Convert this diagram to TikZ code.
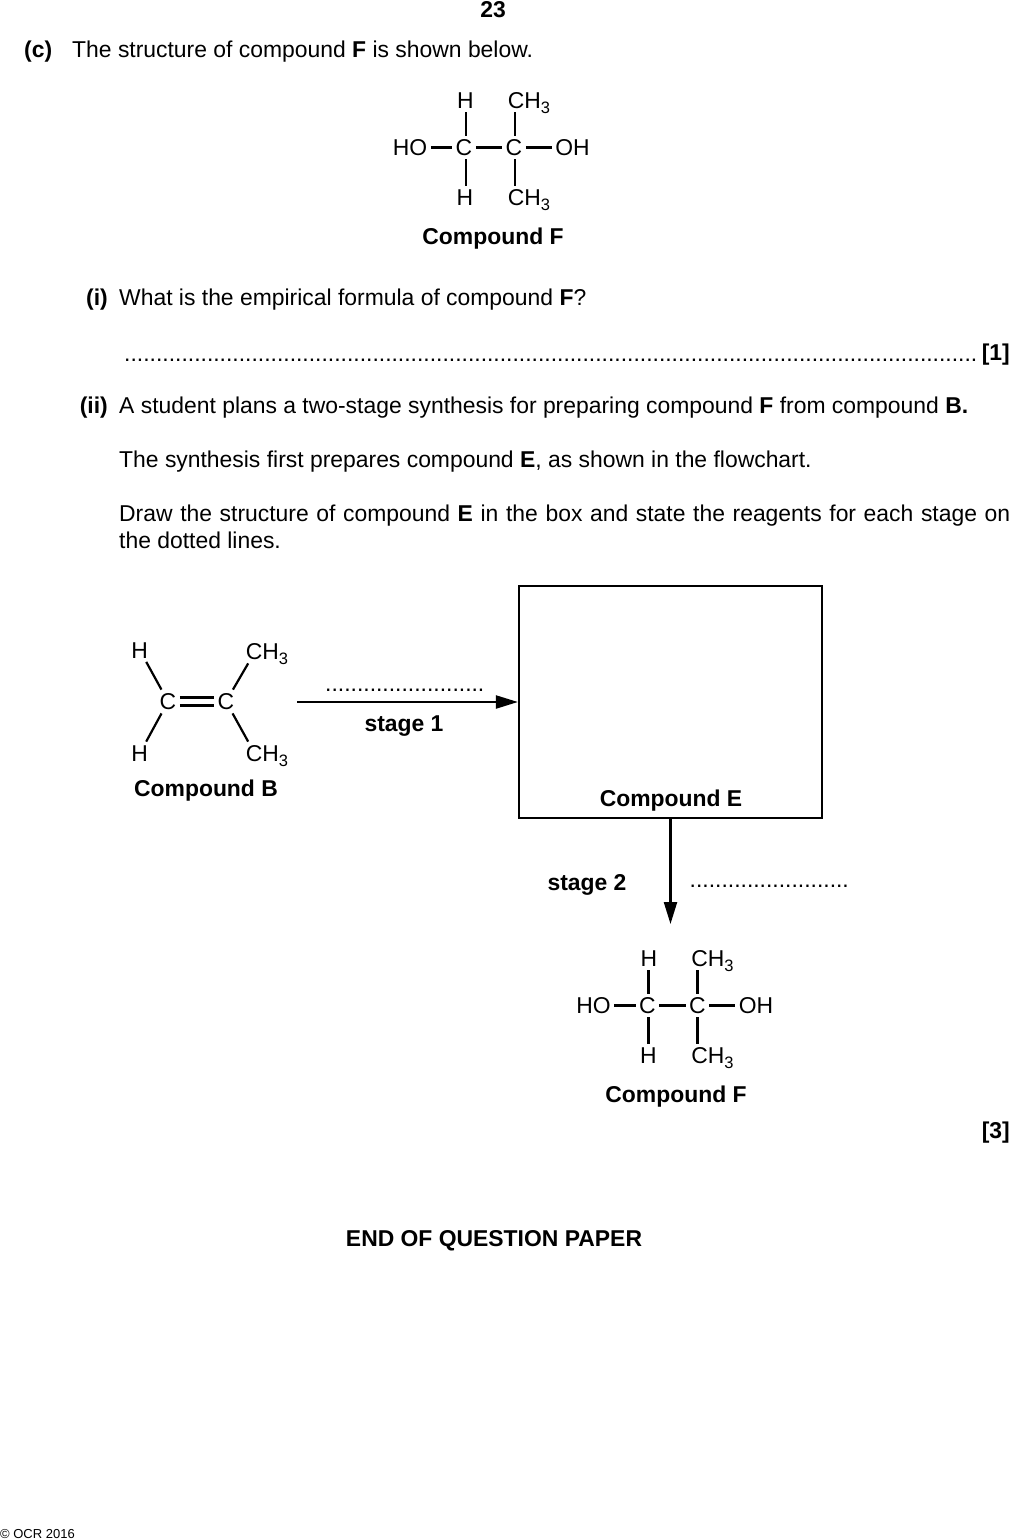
\documentclass[tikz,border=0pt]{standalone}
\usepackage{fontspec}
\setmainfont{Liberation Sans}
\usetikzlibrary{arrows.meta}
\newcommand{\methyl}{CH\raisebox{-5pt}{\fontsize{16.5}{18}\selectfont 3}}
\begin{document}
\begin{tikzpicture}[x=1pt,y=-1pt,node distance = {50pt},
txt/.style = {anchor=base west, inner sep=0pt, font=\fontsize{22.9}{26}\selectfont},
lab/.style = {anchor=base, inner sep=0pt, font=\fontsize{22.9}{26}\selectfont\bfseries},
atom/.style = {inner sep=3.5pt, text height=16.4pt, text depth=0pt, font=\fontsize{22.9}{26}\selectfont},
bond/.style = {line width=2.2pt},
flow/.style = {line width=2.2pt, -{Triangle[length=22pt,width=13pt]}}]

\useasboundingbox (0,0) rectangle (1010,1540);

\node[lab](page) at (493,17) {23};
\node[lab,anchor=base west](partc) at (24,57) {(c)};
\node[txt](intro) at (72,57) {The structure of compound \textbf{F} is shown below.};

% first compound F
\node[atom](c1) at (464,147.5) {C};
\node[atom,right of=c1](c2) {C};
\node[atom,above of=c1,xshift=1.5pt,yshift=-3pt](h1) {H};
\node[atom,below of=c1,xshift=1pt](h2) {H};
\node[atom,left of=c1,xshift=-4pt](ho1) {HO};
\node[atom,right of=c2,xshift=8.5pt](oh1) {OH};
\node[atom,above of=c2,xshift=15pt,yshift=-3pt](me1) {\methyl};
\node[atom,below of=c2,xshift=15pt](me2) {\methyl};
\draw [bond] ([xshift=2pt]c1.north) -- ([xshift=2pt]c1.north |- h1.south);
\draw [bond] ([xshift=2pt]c1.south) -- ([xshift=2pt]c1.south |- h2.north);
\draw [bond] (ho1) -- (c1);
\draw [bond] (c1) -- (c2);
\draw [bond] (c2) -- (oh1);
\draw [bond] ([xshift=1pt]c2.north) -- ([xshift=1pt]c2.north |- me1.south);
\draw [bond] ([xshift=1pt]c2.south) -- ([xshift=1pt]c2.south |- me2.north);
\node[lab](namef1) at (493,244) {Compound F};

\node[lab,anchor=base east](parti) at (108,305) {(i)};
\node[txt](qi) at (119,305) {What is the empirical formula of compound \textbf{F}?};
\node[txt,anchor=base east](dots1) at (977,361) {......................................................................................................................................};
\node[lab,anchor=base east](mark1) at (1010,360) {[1]};

\node[lab,anchor=base east](partii) at (108,413) {(ii)};
\node[txt](qii1) at (119,413) {A student plans a two-stage synthesis for preparing compound \textbf{F} from compound \textbf{B.}};
\node[txt](qii2) at (119,467) {The synthesis first prepares compound \textbf{E}, as shown in the flowchart.};
\node[txt](qii3) at (119,521) {\makebox[891pt][s]{Draw the structure of compound \textbf{E} in the box and state the reagents for each stage on}};
\node[txt](qii4) at (119,548) {the dotted lines.};

% compound B
\node[atom](c3) at (168,701.5) {C};
\node[atom,right of=c3,xshift=8pt](c4) {C};
\node[atom](h3) at (139.7,650) {H};
\node[atom](h4) at (139.7,753.5) {H};
\node[atom](me3) at (267,651.5) {\methyl};
\node[atom](me4) at (267,753.5) {\methyl};
\draw [bond] (h3) -- (c3);
\draw [bond] (h4) -- (c3);
\draw [bond] (c4) -- ([xshift=6pt]me3.south west);
\draw [bond] (c4) -- ([xshift=6pt]me4.north west);
\draw [bond] ([yshift=-4pt]c3.east) -- ([yshift=-4pt]c4.west);
\draw [bond] ([yshift=4pt]c3.east) -- ([yshift=4pt]c4.west);
\node[lab](nameb) at (206,796) {Compound B};

% flow chart
\node[draw,line width=2.2pt,minimum width=303pt,minimum height=232pt](boxe) at (670.5,702) {};
\node[lab](namee) at (671,806) {Compound E};
\coordinate (start1) at (297,702);
\coordinate (end2) at (670.5,924);
\draw [flow] (start1) -- (boxe.west);
\draw [flow] (boxe.south) -- (end2);
\node[txt](dots2) at (325,691.5) {.........................};
\node[lab](stage1) at (404,731) {stage 1};
\node[lab](stage2) at (587,890) {stage 2};
\node[txt](dots3) at (689.5,887) {.........................};

% second compound F
\node[atom](c5) at (647.5,1005.5) {C};
\node[atom,right of=c5](c6) {C};
\node[atom,above of=c5,xshift=1.5pt,yshift=-3pt](h5) {H};
\node[atom,below of=c5,xshift=1pt](h6) {H};
\node[atom,left of=c5,xshift=-4pt](ho2) {HO};
\node[atom,right of=c6,xshift=8.5pt](oh2) {OH};
\node[atom,above of=c6,xshift=15pt,yshift=-3pt](me5) {\methyl};
\node[atom,below of=c6,xshift=15pt](me6) {\methyl};
\draw [bond] ([xshift=1pt]c5.north) -- ([xshift=1pt]c5.north |- h5.south);
\draw [bond] ([xshift=1pt]c5.south) -- ([xshift=1pt]c5.south |- h6.north);
\draw [bond] (ho2) -- (c5);
\draw [bond] (c5) -- (c6);
\draw [bond] (c6) -- (oh2);
\draw [bond] (c6.north) -- (c6.north |- me5.south);
\draw [bond] (c6.south) -- (c6.south |- me6.north);
\node[lab](namef2) at (676,1102) {Compound F};

\node[lab,anchor=base east](mark2) at (1010,1138) {[3]};
\node[lab](endpaper) at (494,1246) {END OF QUESTION PAPER};
\node[txt,font=\fontsize{13}{15}\selectfont](copyr) at (0,1538) {© OCR 2016};

\end{tikzpicture}
\end{document}
